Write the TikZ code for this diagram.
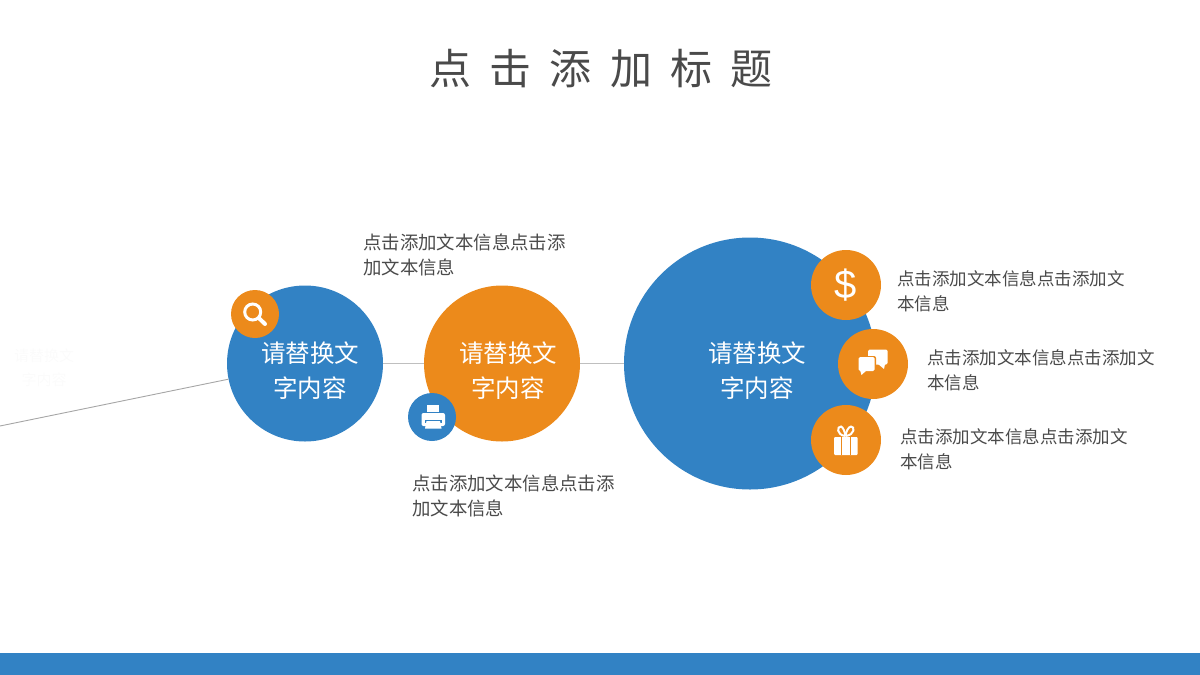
\documentclass[tikz,border=0pt]{standalone}
\usepackage{fontspec}
\usepackage{tikz}
\newfontfamily\cjk{Noto Sans CJK SC}
\newfontfamily\titlecjk[LetterSpace=43]{Noto Sans CJK SC}
\setsansfont{Liberation Sans}
\definecolor{bblue}{HTML}{3282C4}
\definecolor{borange}{HTML}{EC8A1B}
\definecolor{tgray}{HTML}{4A4A4A}
\tikzset{
  bigc/.style={circle, inner sep=0pt, minimum size=#1},
  ic/.style={circle, inner sep=0pt, fill=borange, minimum size=#1},
  ctext/.style={text=white, align=center, font=\cjk\fontsize{24.5}{35}\selectfont},
  info/.style={text=tgray, align=left, anchor=west, inner sep=0pt, font=\cjk\fontsize{17.5}{25}\selectfont},
  infob/.style={info, font=\cjk\fontsize{18.4}{25}\selectfont},
  conn/.style={draw=black!25, line width=0.9pt}
}
\begin{document}
\begin{tikzpicture}[x=1pt,y=-1pt]
  \useasboundingbox (0,0) rectangle (1200,675);
  \fill[bblue] (0,653) rectangle (1200,675);

  \node[text=tgray, font=\titlecjk\fontsize{42}{42}\selectfont] (title) at (601,69) {点击添加标题};

  % circles
  \node[bigc=156pt, fill=bblue] (c1) at (305,363.5) {};
  \node[bigc=156pt, fill=borange] (c2) at (502,363.5) {};
  \node[bigc=252pt, fill=bblue] (c3) at (750,363.5) {};
  \coordinate (linestart) at (0,426);

  \draw[conn, draw=black!35] (linestart) -- (c1);
  \draw[conn] (c1) -- (c2);
  \draw[conn] (c2) -- (c3);

  \node[ctext] (t1) at (310,371) {请替换文\\字内容};
  \node[ctext] (t2) at (508,371) {请替换文\\字内容};
  \node[ctext] (t3) at (757,371) {请替换文\\字内容};
  \node[ctext, text=black!1.5, font=\cjk\fontsize{15}{24}\selectfont] (t0) at (44,368) {请替换文\\字内容};

  % icon circles
  \node[ic=48pt] (mag) at (255,314) {};
  \node[ic=48pt, fill=bblue] (printer) at (432,417) {};
  \node[ic=70pt] (dollar) at (846,285) {\textcolor{white}{\sffamily\fontsize{40}{40}\selectfont\$}};
  \node[ic=70pt] (chat) at (873,364) {};
  \node[ic=70pt] (gift) at (846,440) {};

  % magnifier
  \begin{scope}[shift={(mag)}, white]
    \draw[line width=3pt] (-2.3,-2) circle (8pt);
    \draw[line width=4pt, line cap=round] (4,4.2) -- (10,10);
  \end{scope}

  % printer
  \begin{scope}[shift={(printer)}, white]
    \fill (-5.5,-12) rectangle (7,-5);
    \fill[rounded corners=2pt] (-10.5,-4) rectangle (13,9);
    \fill[bblue] (-7,3) rectangle (10,6);
    \fill (-5.5,4) -- (8,4) -- (9.5,11.5) -- (-7,11.5) -- cycle;
    \fill[bblue] (-3,-5) rectangle (5,-3.8);
  \end{scope}

  % chat bubbles
  \begin{scope}[shift={(chat)}, white]
    \fill[rounded corners=1.5pt] (-5,-14.5) rectangle (14.5,0.5);
    \fill (5,0) -- (12,0) -- (11,5) -- cycle;
    \fill[borange, rounded corners=2pt] (-15.5,-8) rectangle (3,8.5);
    \fill[rounded corners=1.5pt] (-14.5,-7) rectangle (1.5,7);
    \fill (-13,6) -- (-6,6) -- (-11.5,11) -- cycle;
  \end{scope}

  % gift
  \begin{scope}[shift={(gift)}, white]
    \fill[rounded corners=1pt] (-12,-3) rectangle (11.5,15);
    \draw[borange, line width=1pt] (-4.3,-3) -- (-4.3,15) (4,-3) -- (4,15);
    \draw[line width=2pt] (-0.5,-4) .. controls (-10,-5) and (-9,-14) .. (-5,-13.5) .. controls (-3,-13) and (-1,-8) .. (-0.5,-4);
    \draw[line width=2pt] (-0.5,-4) .. controls (9,-5) and (9,-14) .. (5,-13.5) .. controls (2,-13) and (0,-8) .. (-0.5,-4);
  \end{scope}

  \node[infob] (a1) at (363,254.5) {点击添加文本信息点击添\\加文本信息};
  \node[infob] (a2) at (412,496) {点击添加文本信息点击添\\加文本信息};
  \node[info] (a3) at (897,291) {点击添加文本信息点击添加文\\本信息};
  \node[info] (a4) at (927,370) {点击添加文本信息点击添加文\\本信息};
  \node[info] (a5) at (900,449) {点击添加文本信息点击添加文\\本信息};
\end{tikzpicture}
\end{document}
